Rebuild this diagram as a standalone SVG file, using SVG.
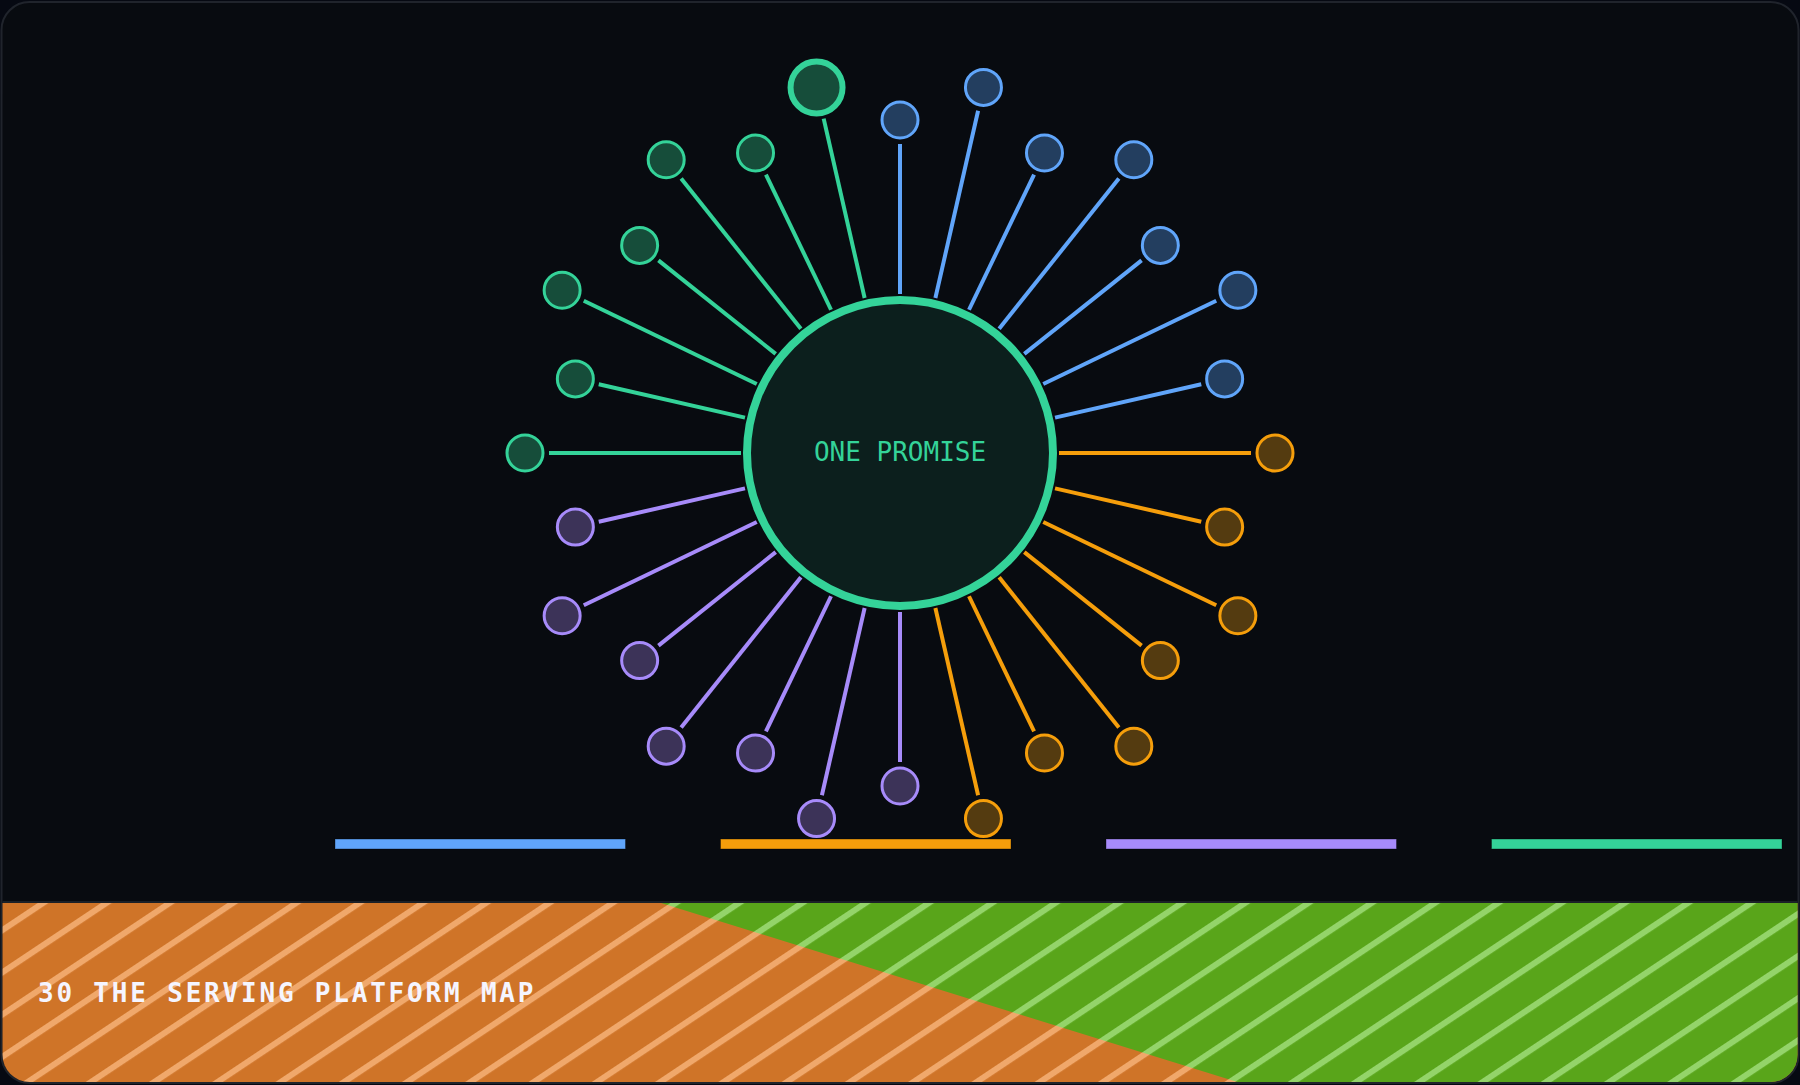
<svg xmlns="http://www.w3.org/2000/svg" width="1800" height="1085" viewBox="0 0 1800 1085">
  <defs>
    <style>
      .sp { stroke-width: 4; fill: none; }
      .b { stroke: #60a5fa; }
      .o { stroke: #f59e0b; }
      .p { stroke: #a78bfa; }
      .g { stroke: #34d399; }
      .nb { fill: #233e5f; stroke: #60a5fa; stroke-width: 3; }
      .no { fill: #543b10; stroke: #f59e0b; stroke-width: 3; }
      .np { fill: #3c3358; stroke: #a78bfa; stroke-width: 3; }
      .ng { fill: #164d3a; stroke: #34d399; stroke-width: 3; }
      .big { stroke-width: 6; }
      .bar { stroke: #000; stroke-opacity: 0.35; stroke-width: 1; }
      .mono { font-family: "DejaVu Sans Mono", "Liberation Mono", monospace; }
    </style>
    <clipPath id="frameClip">
      <rect x="2.5" y="3" width="1795" height="1079" rx="27"/>
    </clipPath>
    <pattern id="stripeO" patternUnits="userSpaceOnUse" width="35.1" height="20" patternTransform="rotate(56.3)">
      <rect x="0" y="0" width="35.1" height="20" fill="#cf7428"/>
      <rect x="0" y="0" width="6" height="20" fill="#f0a86b"/>
    </pattern>
    <pattern id="stripeG" patternUnits="userSpaceOnUse" width="35.1" height="20" patternTransform="rotate(56.3)">
      <rect x="0" y="0" width="35.1" height="20" fill="#59a51a"/>
      <rect x="0" y="0" width="6" height="20" fill="#94d46a"/>
    </pattern>
  </defs>

  <rect x="0" y="0" width="1800" height="1085" fill="#060912"/>
  <rect id="frame" x="1.5" y="2" width="1797" height="1081" rx="28" fill="#080b10" stroke="#20242c" stroke-width="2"/>

  <g id="band" clip-path="url(#frameClip)">
    <rect x="0" y="903" width="1800" height="182" fill="url(#stripeO)"/>
    <polygon points="661,903 1800,903 1800,1085 1247,1085" fill="url(#stripeG)"/>
    <line x1="0" y1="902" x2="1800" y2="902" stroke="#1b2027" stroke-width="2"/>
  </g>

  <g id="connectors">
    <line class="sp b" x1="900" y1="294" x2="900" y2="144"/>
    <line class="sp b" x1="935.38" y1="297.99" x2="978.10" y2="110.80"/>
    <line class="sp b" x1="968.99" y1="309.75" x2="1034.07" y2="174.60"/>
    <line class="sp b" x1="999.13" y1="328.69" x2="1118.85" y2="178.58"/>
    <line class="sp b" x1="1024.31" y1="353.87" x2="1141.59" y2="260.34"/>
    <line class="sp b" x1="1043.25" y1="384.01" x2="1216.24" y2="300.71"/>
    <line class="sp b" x1="1055.01" y1="417.62" x2="1201.25" y2="384.24"/>
    <line class="sp o" x1="1059" y1="453" x2="1251" y2="453"/>
    <line class="sp o" x1="1055.01" y1="488.38" x2="1201.25" y2="521.76"/>
    <line class="sp o" x1="1043.25" y1="521.99" x2="1216.24" y2="605.29"/>
    <line class="sp o" x1="1024.31" y1="552.13" x2="1141.59" y2="645.66"/>
    <line class="sp o" x1="999.13" y1="577.31" x2="1118.85" y2="727.42"/>
    <line class="sp o" x1="968.99" y1="596.25" x2="1034.07" y2="731.40"/>
    <line class="sp o" x1="935.38" y1="608.01" x2="978.10" y2="795.20"/>
    <line class="sp p" x1="900" y1="612" x2="900" y2="762"/>
    <line class="sp p" x1="864.62" y1="608.01" x2="821.90" y2="795.20"/>
    <line class="sp p" x1="831.01" y1="596.25" x2="765.93" y2="731.40"/>
    <line class="sp p" x1="800.87" y1="577.31" x2="681.15" y2="727.42"/>
    <line class="sp p" x1="775.69" y1="552.13" x2="658.41" y2="645.66"/>
    <line class="sp p" x1="756.75" y1="521.99" x2="583.76" y2="605.29"/>
    <line class="sp p" x1="744.99" y1="488.38" x2="598.75" y2="521.76"/>
    <line class="sp g" x1="741" y1="453" x2="549" y2="453"/>
    <line class="sp g" x1="744.99" y1="417.62" x2="598.75" y2="384.24"/>
    <line class="sp g" x1="756.75" y1="384.01" x2="583.76" y2="300.71"/>
    <line class="sp g" x1="775.69" y1="353.87" x2="658.41" y2="260.34"/>
    <line class="sp g" x1="800.87" y1="328.69" x2="681.15" y2="178.58"/>
    <line class="sp g" x1="831.01" y1="309.75" x2="765.93" y2="174.60"/>
    <line class="sp g" x1="864.62" y1="297.99" x2="823.68" y2="118.60"/>
  </g>

  <g id="hub">
    <circle cx="900" cy="453" r="153" fill="#0c1f1d" stroke="#34d399" stroke-width="8"/>
    <text class="mono" x="900" y="461" font-size="26" fill="#34d399" text-anchor="middle">ONE PROMISE</text>
  </g>

  <g id="n0"><circle class="nb" cx="900" cy="120" r="18"/></g>
  <g id="n1"><circle class="nb" cx="983.45" cy="87.40" r="18"/></g>
  <g id="n2"><circle class="nb" cx="1044.48" cy="152.98" r="18"/></g>
  <g id="n3"><circle class="nb" cx="1133.81" cy="159.81" r="18"/></g>
  <g id="n4"><circle class="nb" cx="1160.35" cy="245.38" r="18"/></g>
  <g id="n5"><circle class="nb" cx="1237.86" cy="290.29" r="18"/></g>
  <g id="n6"><circle class="nb" cx="1224.65" cy="378.90" r="18"/></g>
  <g id="n7"><circle class="no" cx="1275" cy="453" r="18"/></g>
  <g id="n8"><circle class="no" cx="1224.65" cy="527.10" r="18"/></g>
  <g id="n9"><circle class="no" cx="1237.86" cy="615.71" r="18"/></g>
  <g id="n10"><circle class="no" cx="1160.35" cy="660.62" r="18"/></g>
  <g id="n11"><circle class="no" cx="1133.81" cy="746.19" r="18"/></g>
  <g id="n12"><circle class="no" cx="1044.48" cy="753.02" r="18"/></g>
  <g id="n13"><circle class="no" cx="983.45" cy="818.60" r="18"/></g>
  <g id="n14"><circle class="np" cx="900" cy="786" r="18"/></g>
  <g id="n15"><circle class="np" cx="816.55" cy="818.60" r="18"/></g>
  <g id="n16"><circle class="np" cx="755.52" cy="753.02" r="18"/></g>
  <g id="n17"><circle class="np" cx="666.19" cy="746.19" r="18"/></g>
  <g id="n18"><circle class="np" cx="639.65" cy="660.62" r="18"/></g>
  <g id="n19"><circle class="np" cx="562.14" cy="615.71" r="18"/></g>
  <g id="n20"><circle class="np" cx="575.35" cy="527.10" r="18"/></g>
  <g id="n21"><circle class="ng" cx="525" cy="453" r="18"/></g>
  <g id="n22"><circle class="ng" cx="575.35" cy="378.90" r="18"/></g>
  <g id="n23"><circle class="ng" cx="562.14" cy="290.29" r="18"/></g>
  <g id="n24"><circle class="ng" cx="639.65" cy="245.38" r="18"/></g>
  <g id="n25"><circle class="ng" cx="666.19" cy="159.81" r="18"/></g>
  <g id="n26"><circle class="ng" cx="755.52" cy="152.98" r="18"/></g>
  <g id="n27"><circle class="ng big" cx="816.55" cy="87.40" r="26"/></g>

  <g id="legend">
    <rect class="bar" x="335" y="839" width="290.5" height="10" fill="#60a5fa"/>
    <rect class="bar" x="720.5" y="839" width="290.5" height="10" fill="#f59e0b"/>
    <rect class="bar" x="1106" y="839" width="290.5" height="10" fill="#a78bfa"/>
    <rect class="bar" x="1491.5" y="839" width="290.5" height="10" fill="#34d399"/>
  </g>

  <g id="title">
    <text class="mono" x="38" y="1002" font-size="26" font-weight="bold" letter-spacing="2.8" fill="#f5f5ff">30 THE SERVING PLATFORM MAP</text>
  </g>
</svg>
